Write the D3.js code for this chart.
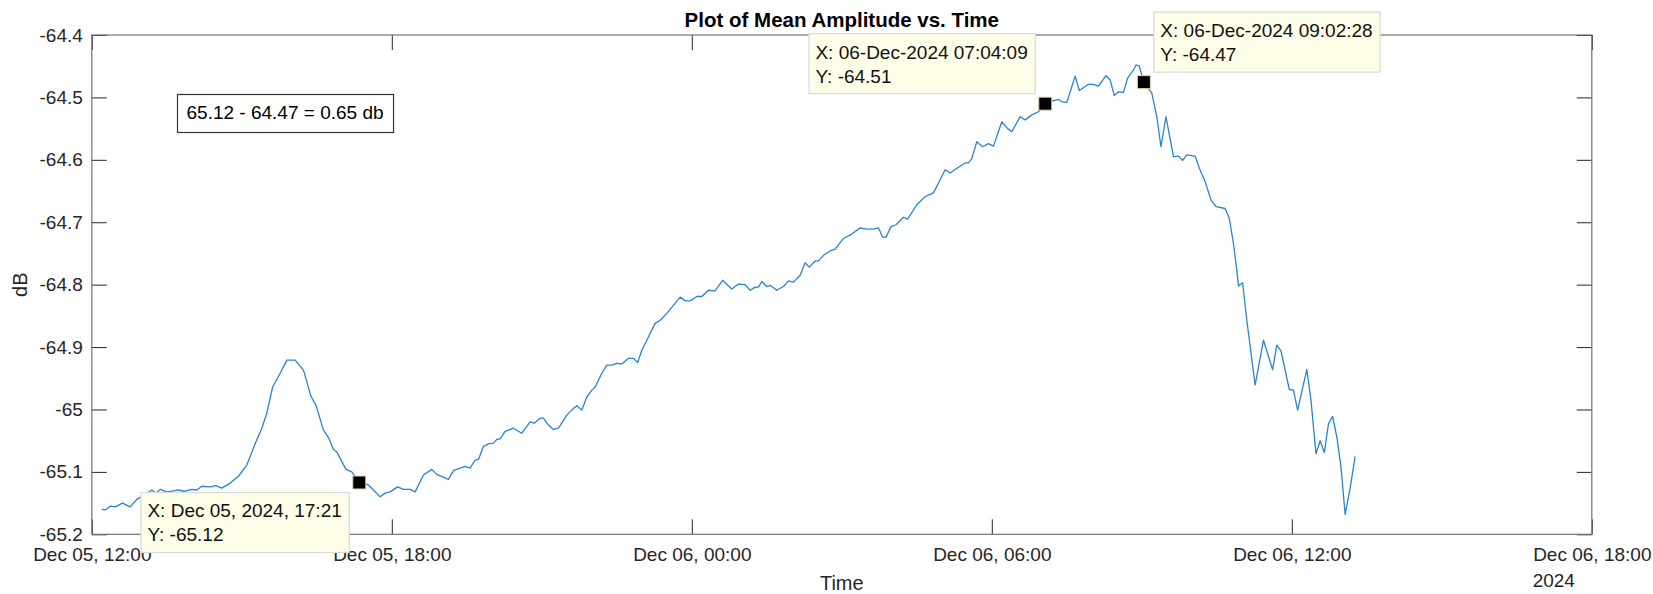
<!DOCTYPE html>
<html>
<head>
<meta charset="utf-8">
<script src="https://cdn.jsdelivr.net/npm/d3@7"></script>
<style>
  html, body { margin: 0; padding: 0; background: #fff; }
  svg { display: block; font-family: "Liberation Sans", Arial, Helvetica, sans-serif; }
</style>
</head>
<body>
<svg id="chart" width="1653" height="594"></svg>
<script>
// recording start, samples are minutes after it
const startTime = Date.UTC(2024, 11, 5, 12, 0, 0);

const sampleMinutes = [
  12,16,22,28,37,46,54,64,72,77,
  82,90,100,103,112,120,126,132,142,149,
  156,166,176,186,196,204,210,217,226,234,
  244,254,263,269,278,284,290,294,305,312,
  321,332,346,352,358,367,374,382,388,398,
  408,414,428,434,448,454,460,464,470,476,
  482,486,490,496,506,516,526,531,538,542,
  548,554,560,570,576,582,588,594,600,604,
  612,618,624,630,636,644,650,655,660,666,
  676,682,690,706,712,718,726,732,740,748,
  757,768,776,784,790,796,800,804,810,814,
  822,830,836,842,850,856,861,868,872,878,
  886,892,902,912,922,930,938,944,949,953,
  959,965,974,979,990,1000,1010,1016,1024,1030,
  1040,1048,1052,1056,1062,1069,1076,1082,1092,1099,
  1104,1114,1120,1128,1136,1144.15,1154,1160,1164,1170,
  1180,1185,1196,1202,1208,1217,1222,1227,1232,1238,
  1243,1250,1253,1257,1262.47,1272,1278,1283,1289,1298,
  1304,1309,1314,1324,1329,1336,1343,1349,1360,1365,
  1370,1374,1376,1381,1386,1396,1406,1417,1422,1427,
  1437,1442,1447,1458,1463,1469,1474,1479,1484,1489,
  1494,1499,1504,1510,1516
];

const meanDb = [
  -65.160,-65.161,-65.155,-65.156,-65.150,-65.156,-65.144,-65.136,-65.129,-65.134,
  -65.128,-65.132,-65.130,-65.129,-65.131,-65.128,-65.129,-65.123,-65.124,-65.122,
  -65.126,-65.118,-65.107,-65.089,-65.055,-65.030,-65.006,-64.964,-64.942,-64.921,
  -64.921,-64.937,-64.979,-64.993,-65.033,-65.045,-65.064,-65.068,-65.096,-65.100,
  -65.117,-65.121,-65.140,-65.134,-65.132,-65.124,-65.128,-65.128,-65.132,-65.105,
  -65.096,-65.104,-65.112,-65.098,-65.091,-65.094,-65.081,-65.080,-65.059,-65.055,
  -65.054,-65.048,-65.047,-65.035,-65.030,-65.038,-65.020,-65.022,-65.014,-65.014,
  -65.025,-65.032,-65.030,-65.009,-65.001,-64.994,-65.001,-64.980,-64.969,-64.964,
  -64.942,-64.929,-64.929,-64.926,-64.927,-64.918,-64.918,-64.925,-64.905,-64.889,
  -64.862,-64.857,-64.846,-64.820,-64.826,-64.826,-64.819,-64.819,-64.809,-64.810,
  -64.793,-64.807,-64.799,-64.800,-64.809,-64.804,-64.804,-64.795,-64.803,-64.801,
  -64.809,-64.803,-64.794,-64.796,-64.785,-64.765,-64.772,-64.762,-64.762,-64.753,
  -64.746,-64.743,-64.726,-64.719,-64.709,-64.711,-64.711,-64.709,-64.724,-64.724,
  -64.707,-64.704,-64.692,-64.695,-64.672,-64.659,-64.653,-64.637,-64.616,-64.621,
  -64.612,-64.605,-64.605,-64.598,-64.571,-64.579,-64.574,-64.578,-64.539,-64.550,
  -64.555,-64.531,-64.536,-64.528,-64.523,-64.510,-64.505,-64.503,-64.507,-64.508,
  -64.466,-64.489,-64.479,-64.479,-64.482,-64.465,-64.472,-64.497,-64.491,-64.492,
  -64.469,-64.456,-64.448,-64.450,-64.4755,-64.493,-64.531,-64.579,-64.531,-64.595,
  -64.594,-64.601,-64.592,-64.594,-64.613,-64.635,-64.664,-64.675,-64.678,-64.694,
  -64.734,-64.777,-64.802,-64.797,-64.857,-64.961,-64.889,-64.936,-64.897,-64.906,
  -64.968,-64.969,-65.001,-64.936,-64.985,-65.071,-65.050,-65.069,-65.023,-65.011,
  -65.044,-65.092,-65.168,-65.126,-65.075
];

// axis ticks
const xTickHours = [0, 6, 12, 18, 24, 30];
const yTicks = [-64.4, -64.5, -64.6, -64.7, -64.8, -64.9, -65, -65.1, -65.2];

// data tips
const tipMinutes = [321, 1144.15, 1262.47];
const tipValues = [-65.117, -64.510, -64.4755];
const tipXText = ["X: Dec 05, 2024, 17:21", "X: 06-Dec-2024 07:04:09", "X: 06-Dec-2024 09:02:28"];
const tipYText = ["Y: -65.12", "Y: -64.51", "Y: -64.47"];
const tipCorner = ["lower-left", "upper-left", "upper-right"];

const noteText = "65.12 - 64.47 = 0.65 db";

const svg = d3.select("#chart");
const margin = {left: 91.8, top: 35, right: 61.2, bottom: 59.7};
const width = 1653 - margin.left - margin.right;
const height = 594 - margin.top - margin.bottom;

const toDate = m => new Date(startTime + m * 60000);

const x = d3.scaleUtc()
  .domain([toDate(0), toDate(30 * 60)])
  .range([0, width]);
const y = d3.scaleLinear()
  .domain([-65.2, -64.4])
  .range([height, 0]);

const g = svg.append("g").attr("transform", `translate(${margin.left},${margin.top})`);

const xTickDates = xTickHours.map(h => toDate(h * 60));
const fmt = d3.utcFormat("%b %d, %H:%M");
const axisColor = "#262626";

// bottom / top
const xAxis = g.append("g")
  .attr("transform", `translate(0,${height})`)
  .call(d3.axisBottom(x).tickValues(xTickDates).tickFormat(fmt).tickSizeInner(-15).tickSizeOuter(0).tickPadding(13));
g.append("g")
  .call(d3.axisTop(x).tickValues(xTickDates).tickFormat("").tickSizeInner(-15).tickSizeOuter(0));
// left / right
g.append("g")
  .call(d3.axisLeft(y).tickValues(yTicks).tickFormat(d => String(d)).tickSizeInner(-15).tickSizeOuter(0).tickPadding(9));
g.append("g")
  .attr("transform", `translate(${width},0)`)
  .call(d3.axisRight(y).tickValues(yTicks).tickFormat("").tickSizeInner(-15).tickSizeOuter(0));

g.selectAll(".domain").remove();
g.selectAll(".tick line").attr("stroke", axisColor).attr("stroke-width", 1);
g.selectAll(".tick text")
  .attr("fill", axisColor)
  .style("font-size", "19px")
  .style("font-family", "'Liberation Sans', Arial, sans-serif");

g.append("rect")
  .attr("x", 0).attr("y", 0)
  .attr("width", width).attr("height", height)
  .attr("fill", "none")
  .attr("stroke", "#737373")
  .attr("stroke-width", 1.2);

// year under last tick label, left aligned with it
const lastLabel = xAxis.selectAll(".tick text").nodes().pop();
const lb = lastLabel.getBBox();
xAxis.append("text")
  .attr("x", x(xTickDates[xTickDates.length - 1]) + lb.x)
  .attr("y", 53)
  .attr("text-anchor", "start")
  .attr("fill", axisColor)
  .style("font-size", "19px")
  .style("font-family", "'Liberation Sans', Arial, sans-serif")
  .text("2024");

// line
const series = sampleMinutes.map((m, i) => ({t: toDate(m), v: meanDb[i]}));
g.append("path")
  .datum(series)
  .attr("fill", "none")
  .attr("stroke", "#2a85cb")
  .attr("stroke-width", 1.3)
  .attr("stroke-linejoin", "round")
  .attr("d", d3.line().x(d => x(d.t)).y(d => y(d.v)));

// title and axis labels
svg.append("text")
  .attr("x", margin.left + width / 2)
  .attr("y", 27)
  .attr("text-anchor", "middle")
  .attr("fill", "#000")
  .style("font-size", "20.5px")
  .style("font-weight", "bold")
  .text("Plot of Mean Amplitude vs. Time");

svg.append("text")
  .attr("x", margin.left + width / 2)
  .attr("y", 590)
  .attr("text-anchor", "middle")
  .attr("fill", axisColor)
  .style("font-size", "20px")
  .text("Time");

svg.append("text")
  .attr("transform", `translate(27,${margin.top + height / 2}) rotate(-90)`)
  .attr("text-anchor", "middle")
  .attr("fill", axisColor)
  .style("font-size", "20px")
  .text("dB");

// note box
const note = g.append("g").attr("transform", "translate(85.2,59)");
const noteLabel = note.append("text")
  .attr("x", 9.5).attr("y", 25)
  .attr("fill", "#000")
  .style("font-size", "19px")
  .text(noteText);
const nb = noteLabel.node().getBBox();
note.insert("rect", "text")
  .attr("x", 0.5).attr("y", 0.5)
  .attr("width", nb.width + 19).attr("height", 38)
  .attr("fill", "#fff")
  .attr("stroke", "#333")
  .attr("stroke-width", 1.2);

// data tips
tipMinutes.forEach((m, i) => {
  const mx = x(toDate(m)), my = y(tipValues[i]);
  g.append("rect")
    .attr("x", mx - 6.5).attr("y", my - 6.5)
    .attr("width", 13).attr("height", 13)
    .attr("fill", "#000")
    .attr("stroke", "#d8d3b0")
    .attr("stroke-width", 1);

  const tip = g.append("g");
  const t1 = tip.append("text").attr("x", 6.5).attr("y", 25).style("font-size", "19px").attr("fill", "#111").text(tipXText[i]);
  tip.append("text").attr("x", 6.5).attr("y", 49).style("font-size", "19px").attr("fill", "#111").text(tipYText[i]);
  const bw = t1.node().getBBox().width + 14;
  const bh = 60;
  tip.insert("rect", "text")
    .attr("width", bw).attr("height", bh)
    .attr("fill", "#fdfde8")
    .attr("stroke", "#d9d9d9")
    .attr("stroke-width", 1.2);
  let bx, by;
  if (tipCorner[i] === "lower-left") { bx = mx - 10 - bw; by = my + 10; }
  else if (tipCorner[i] === "upper-left") { bx = mx - 10 - bw; by = my - 10 - bh; }
  else { bx = mx + 10; by = my - 10 - bh; }
  tip.attr("transform", `translate(${bx},${by})`);
});
</script>
</body>
</html>
